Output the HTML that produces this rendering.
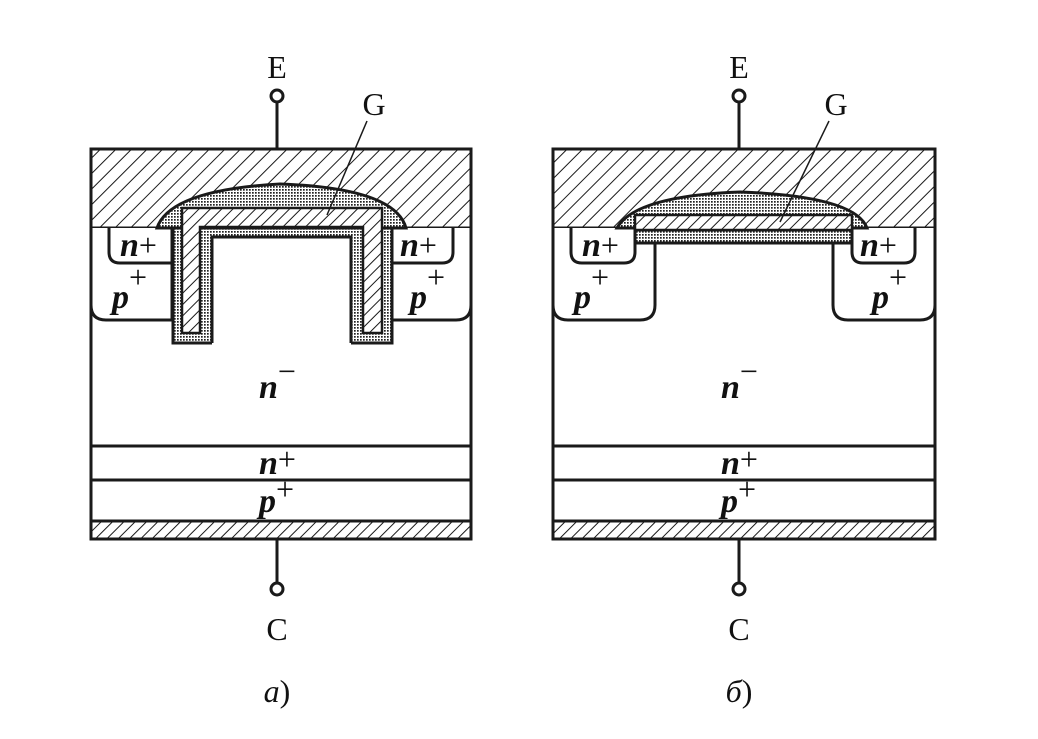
<!DOCTYPE html>
<html><head><meta charset="utf-8"><style>
html,body{margin:0;padding:0;background:#fff;}
svg{display:block;}
text{font-family:"Liberation Serif",serif;fill:#111;}
.lab{font-weight:bold;font-style:italic;font-size:34px;}
.sup{font-size:32px;font-weight:normal;font-style:normal;}
.t{font-size:32px;}
</style></head><body>
<svg width="1038" height="739" viewBox="0 0 1038 739" xmlns="http://www.w3.org/2000/svg">
<defs>
<pattern id="h" width="11" height="11" patternUnits="userSpaceOnUse" patternTransform="rotate(45)">
<rect width="11" height="11" fill="#fff"/><line x1="0" y1="0" x2="0" y2="11" stroke="#1a1a1a" stroke-width="2"/>
</pattern>
<pattern id="hs" width="8" height="8" patternUnits="userSpaceOnUse" patternTransform="rotate(45)">
<rect width="8" height="8" fill="#fff"/><line x1="0" y1="0" x2="0" y2="8" stroke="#1a1a1a" stroke-width="2"/>
</pattern>
<pattern id="d" width="3" height="3" patternUnits="userSpaceOnUse">
<rect width="3" height="3" fill="#fff"/><rect width="1.7" height="1.7" fill="#222"/>
</pattern>
</defs>
<g stroke="#1a1a1a" stroke-width="3" fill="none">
<!-- ===== LEFT (a) ===== -->
<rect x="91" y="149" width="380" height="79" fill="url(#h)"/>
<rect x="91" y="521" width="380" height="18" fill="url(#hs)"/>
<line x1="91" y1="446" x2="471" y2="446"/>
<line x1="91" y1="480" x2="471" y2="480"/>
<line x1="91" y1="521" x2="471" y2="521"/>
<rect x="91" y="149" width="380" height="390"/>
<path d="M91 228 V305 Q91 320 106 320 H172 V228" fill="#fff"/>
<path d="M109 228 V252 Q109 263 120 263 H172 V228" fill="#fff"/>
<path d="M471 228 V305 Q471 320 456 320 H392 V228" fill="#fff"/>
<path d="M453 228 V252 Q453 263 442 263 H392 V228" fill="#fff"/>
<path d="M157 228 Q170 190 280 184 Q395 188 406 228 Z" fill="url(#d)"/>
<path d="M173 228 V343 H212 V237 H351 V343 H392 V228 Z" fill="url(#d)"/>
<path d="M182 208 H382 V333 H363 V227 H200 V333 H182 Z" fill="url(#hs)" stroke-width="2.5"/>
<rect x="212" y="237" width="139" height="108" fill="#fff" stroke="none"/>
<path d="M212 343 V237 H351 V343" />
<line x1="173" y1="343" x2="212" y2="343"/>
<line x1="351" y1="343" x2="392" y2="343"/>
<line x1="277" y1="102" x2="277" y2="149"/>
<circle cx="277" cy="96" r="6" fill="#fff"/>
<line x1="277" y1="539" x2="277" y2="583"/>
<circle cx="277" cy="589" r="6" fill="#fff"/>
<line x1="367" y1="121" x2="327" y2="215" stroke-width="1.5"/>

<!-- ===== RIGHT (б) ===== -->
<rect x="553" y="149" width="382" height="79" fill="url(#h)"/>
<rect x="553" y="521" width="382" height="18" fill="url(#hs)"/>
<line x1="553" y1="446" x2="935" y2="446"/>
<line x1="553" y1="480" x2="935" y2="480"/>
<line x1="553" y1="521" x2="935" y2="521"/>
<rect x="553" y="149" width="382" height="390"/>
<path d="M553 228 V305 Q553 320 568 320 H640 Q655 320 655 305 V228" fill="#fff"/>
<path d="M571 228 V252 Q571 263 582 263 H624 Q635 263 635 252 V228" fill="#fff"/>
<path d="M935 228 V305 Q935 320 920 320 H848 Q833 320 833 305 V228" fill="#fff"/>
<path d="M915 228 V252 Q915 263 904 263 H863 Q852 263 852 252 V228" fill="#fff"/>
<path d="M617 228 Q635 196 740 192 Q855 196 867 228 Z" fill="url(#d)"/>
<rect x="635" y="230" width="217" height="13" fill="url(#d)"/>
<rect x="635" y="215" width="217" height="15" fill="url(#hs)" stroke-width="2.5"/>
<line x1="739" y1="102" x2="739" y2="149"/>
<circle cx="739" cy="96" r="6" fill="#fff"/>
<line x1="739" y1="539" x2="739" y2="583"/>
<circle cx="739" cy="589" r="6" fill="#fff"/>
<line x1="829" y1="121" x2="780" y2="222" stroke-width="1.5"/>
</g>
<text class="t" x="277" y="78" text-anchor="middle">E</text>
<text class="t" x="374" y="115" text-anchor="middle">G</text>
<text class="t" x="277" y="640" text-anchor="middle">C</text>
<text class="t" x="277" y="702" text-anchor="middle" font-style="italic">а<tspan font-style="normal">)</tspan></text>
<text class="lab" x="120" y="256">n<tspan class="sup">+</tspan></text>
<text class="lab" x="400" y="256">n<tspan class="sup">+</tspan></text>
<text class="lab" x="112" y="308">p<tspan class="sup" dy="-20">+</tspan></text>
<text class="lab" x="410" y="308">p<tspan class="sup" dy="-20">+</tspan></text>
<text class="lab" x="259" y="398">n<tspan class="sup" dy="-16">−</tspan></text>
<text class="lab" x="259" y="474">n<tspan class="sup" dy="-4">+</tspan></text>
<text class="lab" x="259" y="512">p<tspan class="sup" dy="-12">+</tspan></text>
<text class="t" x="739" y="78" text-anchor="middle">E</text>
<text class="t" x="836" y="115" text-anchor="middle">G</text>
<text class="t" x="739" y="640" text-anchor="middle">C</text>
<text class="t" x="739" y="702" text-anchor="middle" font-style="italic">б<tspan font-style="normal">)</tspan></text>
<text class="lab" x="582" y="256">n<tspan class="sup">+</tspan></text>
<text class="lab" x="860" y="256">n<tspan class="sup">+</tspan></text>
<text class="lab" x="574" y="308">p<tspan class="sup" dy="-20">+</tspan></text>
<text class="lab" x="872" y="308">p<tspan class="sup" dy="-20">+</tspan></text>
<text class="lab" x="721" y="398">n<tspan class="sup" dy="-16">−</tspan></text>
<text class="lab" x="721" y="474">n<tspan class="sup" dy="-4">+</tspan></text>
<text class="lab" x="721" y="512">p<tspan class="sup" dy="-12">+</tspan></text>
</svg>
</body></html>
